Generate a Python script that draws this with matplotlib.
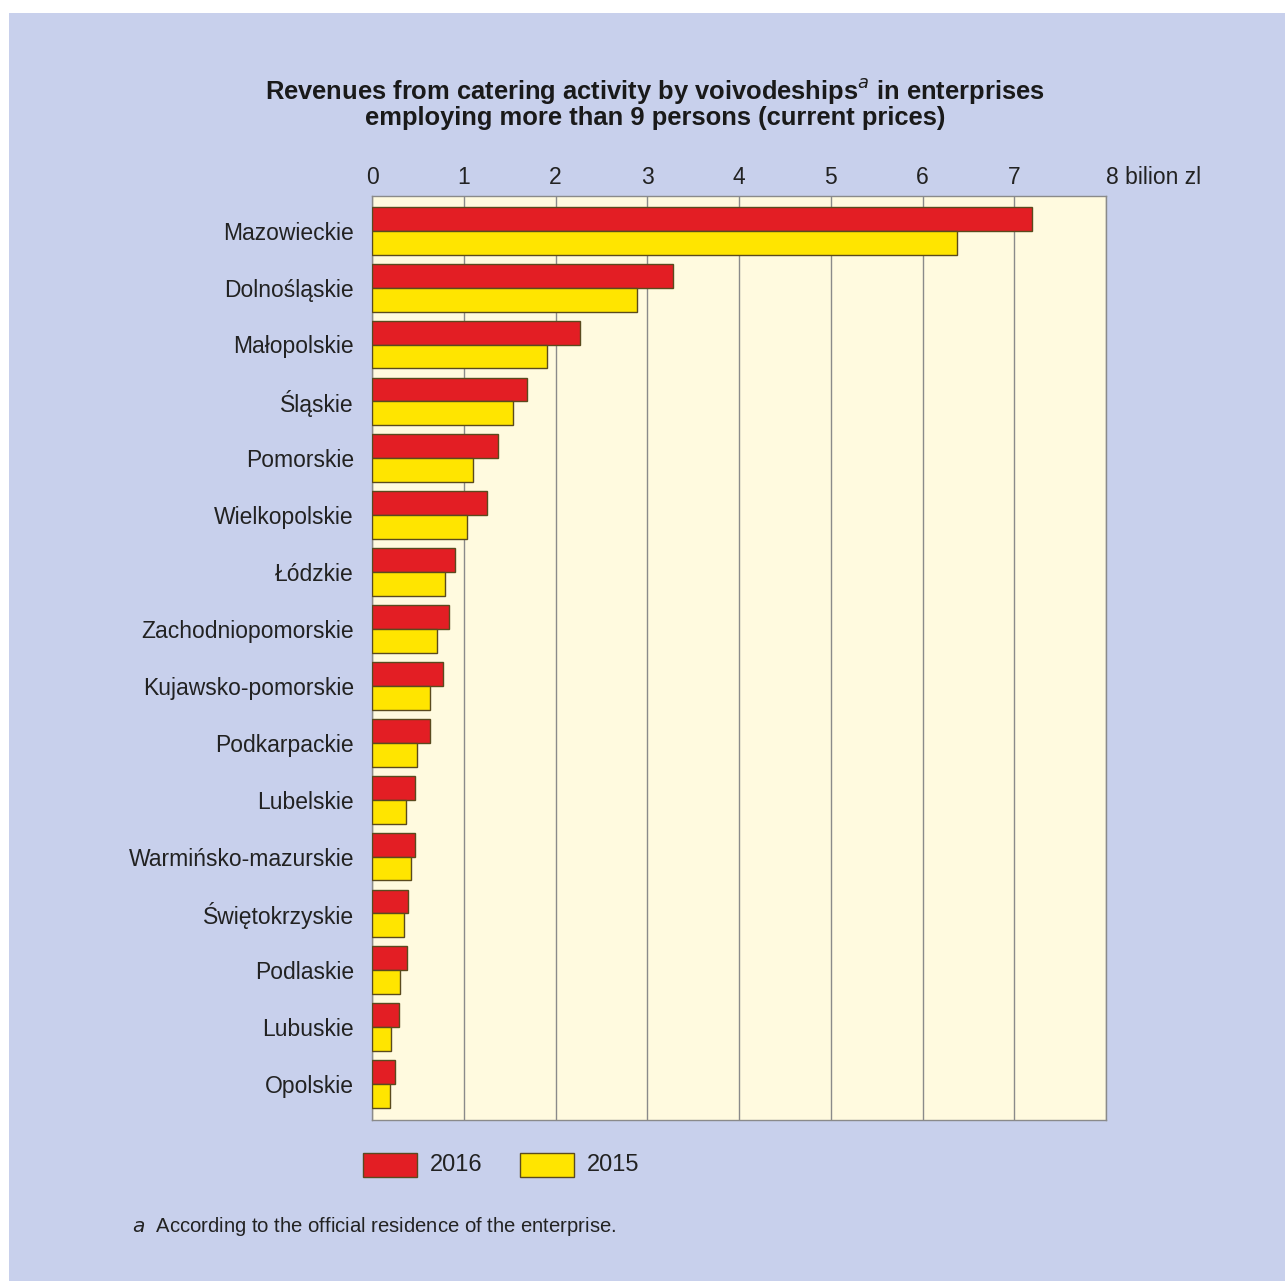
import matplotlib
matplotlib.use("Agg")
import matplotlib.pyplot as plt
from matplotlib.patches import Rectangle
import numpy as np

plt.rcParams['font.family'] = ['Liberation Sans', 'DejaVu Sans']

regions = ["Mazowieckie", "Dolnośląskie", "Małopolskie", "Śląskie", "Pomorskie",
           "Wielkopolskie", "Łódzkie", "Zachodniopomorskie", "Kujawsko-pomorskie",
           "Podkarpackie", "Lubelskie", "Warmińsko-mazurskie", "Świętokrzyskie",
           "Podlaskie", "Lubuskie", "Opolskie"]
values_2016 = [7.19, 3.28, 2.27, 1.69, 1.37, 1.25, 0.90, 0.84, 0.77, 0.63,
               0.47, 0.47, 0.39, 0.38, 0.29, 0.25]
values_2015 = [6.38, 2.89, 1.91, 1.54, 1.10, 1.04, 0.80, 0.71, 0.63, 0.49,
               0.37, 0.42, 0.35, 0.31, 0.21, 0.20]
xticks = [0, 1, 2, 3, 4, 5, 6, 7, 8]
xticklabels = ["0", "1", "2", "3", "4", "5", "6", "7", "8 bilion zl"]

W, H = 1285, 1281
fig = plt.figure(figsize=(W / 100, H / 100), dpi=100)
fig.patch.set_facecolor("white")
fig.patches.append(Rectangle((9 / W, 0), 1 - 9 / W, 1 - 13 / H, transform=fig.transFigure,
                             facecolor="#C8D0EC", edgecolor="none", zorder=-5))

left, right, top, bottom = 372, 1106, 196, 1120
ax = fig.add_axes([left / W, 1 - bottom / H, (right - left) / W, (bottom - top) / H])
ax.set_facecolor("#FFFADF")

y = np.arange(len(regions))
h = 0.42
red = "#E31E24"
yellow = "#FFE500"
edge = "#5A4A1E"
ax.barh(y - h / 2, values_2016, height=h, color=red, edgecolor=edge, linewidth=1.0, zorder=3, label="2016")
ax.barh(y + h / 2, values_2015, height=h, color=yellow, edgecolor=edge, linewidth=1.0, zorder=3, label="2015")

ax.set_xlim(0, 8)
ax.set_ylim(15.63, -0.61)
ax.set_yticks(y)
ax.set_yticklabels(regions, fontsize=16.5, color="#222222")
ax.set_xticks(xticks)
ax.set_xticklabels(xticklabels, fontsize=16.5, color="#222222")
ax.xaxis.tick_top()
ax.tick_params(axis='x', length=0, pad=5)
ax.tick_params(axis='y', length=0, pad=13)
for lbl in ax.get_xticklabels():
    if lbl.get_text().startswith("8"):
        lbl.set_horizontalalignment("left")
        lbl.set_x(7.86)
ax.grid(axis='x', color="#8A8A8A", linewidth=1.0, zorder=1)
ax.set_axisbelow(True)
for s in ax.spines.values():
    s.set_color("#8A8A8A")
    s.set_linewidth(1.0)

fig.text(655 / W, 1 - 91 / H, "Revenues from catering activity by voivodeships$^{\\it a}$ in enterprises",
         ha="center", va="center", fontsize=18.4, fontweight="bold", color="#1A1A1A")
fig.text(655 / W, 1 - 118 / H, "employing more than 9 persons (current prices)",
         ha="center", va="center", fontsize=18.4, fontweight="bold", color="#1A1A1A")

# legend
lx = [(363, red, "2016"), (520, yellow, "2015")]
for x0, c, t in lx:
    fig.patches.append(Rectangle((x0 / W, 1 - 1177 / H), 54 / W, 24 / H, transform=fig.transFigure,
                                 facecolor=c, edgecolor=edge, linewidth=1.0, zorder=3))
    fig.text((x0 + 67) / W, 1 - 1165 / H, t, ha="left", va="center", fontsize=17, color="#222222")

fig.text(132 / W, 1 - 1227 / H, "$\\it{a}$  According to the official residence of the enterprise.",
         ha="left", va="center", fontsize=14.6, color="#222222")

fig.savefig("out.png", dpi=100, facecolor=fig.get_facecolor())
